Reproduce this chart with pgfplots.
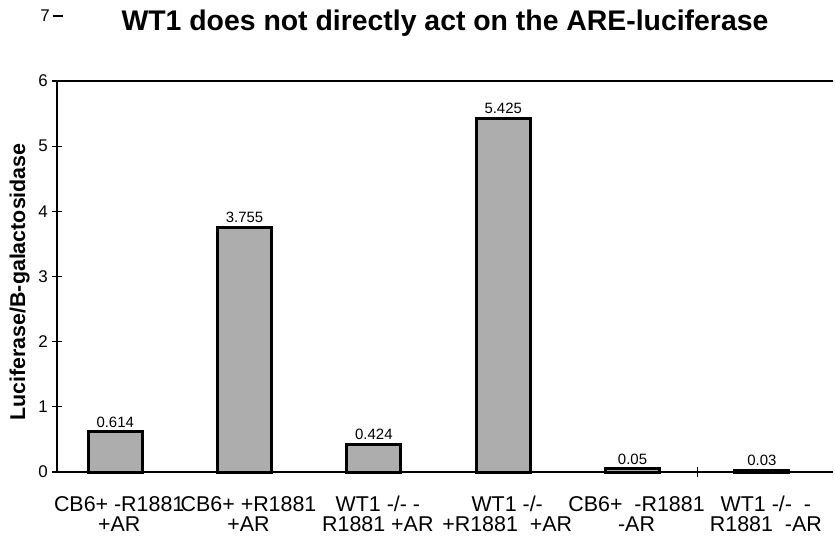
\documentclass[border=0pt]{standalone}
\usepackage{fontspec}
\setmainfont{Liberation Sans}
\usepackage{pgfplots}
\pgfplotsset{compat=1.18}
\begin{document}
\begin{tikzpicture}
\begin{axis}[
  scale only axis, width=776bp, height=391bp,
  xmin=-0.45, xmax=5.55, ymin=0, ymax=6,
  clip=false,
  axis x line*=bottom, axis y line*=left,
  axis line style={line width=2.6bp, -},
  /pgf/number format/assume math mode=true,
  ytick={0,1,2,3,4,5,6},
  ytick style={line width=1.2bp, black},
  tick align=center,
  major tick length=10bp,
  yticklabel style={font=\fontsize{17}{17}\selectfont, anchor=east, inner sep=0pt, xshift=-4bp},
  xtick={0,1,2,3,4,5},
  xticklabels={{CB6+ -R1881\\+AR},{CB6+ +R1881\\+AR},{WT1 -/- -\\R1881 +AR},{WT1 -/-\\+R1881\ \ +AR},{CB6+\ \ -R1881\\-AR},{WT1 -/-\ \ -\\R1881\ \ -AR}},
  xticklabel style={align=center, font=\fontsize{21.5}{20}\selectfont, anchor=north, inner sep=0pt, yshift=-14bp, xshift=4bp},
  x tick style={draw=none},
  ylabel={Luciferase/B-galactosidase},
  ylabel style={font=\bfseries\fontsize{21.5}{22}\selectfont, at={(axis description cs:-0.035,0.486)}, anchor=south, inner sep=0pt},
  title={WT1 does not directly act on the ARE-luciferase},
  title style={font=\bfseries\fontsize{28.5}{30}\selectfont, at={(axis description cs:0.5,1)}, anchor=base, yshift=45bp},
  ybar, bar width=54bp,
  nodes near coords={\pgfmathprintnumber[fixed,precision=3]{\pgfplotspointmeta}},
  every node near coord/.append style={font=\fontsize{15}{15}\selectfont, black, inner sep=3pt},
]
\addplot[fill=black!32, draw=black, line width=3bp] coordinates {(0,0.614) (1,3.755) (2,0.424) (3,5.425) (4,0.05) (5,0.03)};
\draw[line width=2bp] (rel axis cs:0,1) -- (rel axis cs:1,1);
\draw[line width=1.2bp] ([yshift=-5bp]axis cs:4.5,0) -- ([yshift=5bp]axis cs:4.5,0);
\draw[line width=1.6bp] ([xshift=-4bp]axis cs:-0.45,7) -- ([xshift=6bp]axis cs:-0.45,7);
\node[anchor=east, inner sep=0pt, font=\fontsize{17}{17}\selectfont] at ([xshift=-7bp]axis cs:-0.45,7) {7};
\end{axis}
\path[use as bounding box] (-57bp,-74bp) rectangle (778bp,472bp);
\end{tikzpicture}
\end{document}
